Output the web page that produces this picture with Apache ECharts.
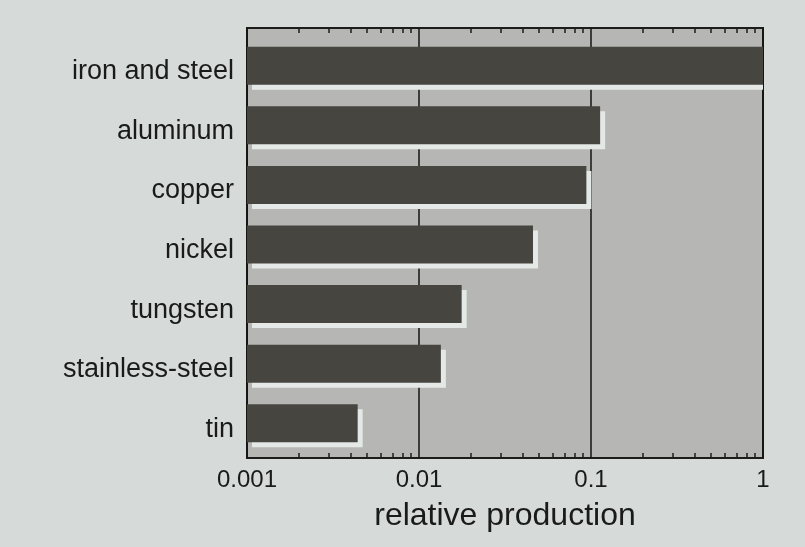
<!DOCTYPE html>
<html>
<head>
<meta charset="utf-8">
<script src="https://cdn.jsdelivr.net/npm/echarts@6/dist/echarts.min.js"></script>
<style>
    html, body { margin: 0; padding: 0; background: #d6dad9; }
    #main { width: 805px; height: 547px; }
</style>
</head>
<body>
<div id="main"></div>
<script>
// categories top to bottom
var metals = ['iron and steel', 'aluminum', 'copper', 'nickel', 'tungsten', 'stainless-steel', 'tin']
var production = [1, 0.113, 0.094, 0.046, 0.0177, 0.0134, 0.0044]

var xMin = 0.001
var xMax = 1
var xTicks = [0.001, 0.01, 0.1, 1]
var xTickLabels = ['0.001', '0.01', '0.1', '1']
var minorTicks = [
    0.002, 0.003, 0.004, 0.005, 0.006, 0.007, 0.008, 0.009,
    0.02, 0.03, 0.04, 0.05, 0.06, 0.07, 0.08, 0.09,
    0.2, 0.3, 0.4, 0.5, 0.6, 0.7, 0.8, 0.9
]

var myChart = echarts.init(document.getElementById('main'))

function tickLabel(v) {
    for (var i = 0; i < xTicks.length; i++) {
        if (Math.abs(Math.log10(v / xTicks[i])) < 1e-6) return xTickLabels[i]
    }
    return ''
}

// log axis bars in echarts start at 1, so draw them from xMin with a custom series
function renderBar(params, api) {
    var end = api.coord([api.value(0), api.value(1)])
    var start = api.coord([xMin, api.value(1)])
    var h = 38
    return {
        type: 'rect',
        shape: { x: start[0], y: end[1] - h / 2, width: end[0] - start[0], height: h },
        style: {
            fill: '#46453f',
            shadowColor: '#e4e8e6',
            shadowBlur: 0,
            shadowOffsetX: 5,
            shadowOffsetY: 5
        }
    }
}

var option = {
    backgroundColor: '#d6dad9',
    animation: false,
    grid: [
        // bars
        { left: 247, right: 42, top: 36, bottom: 94 },
        // frame, grid lines, ticks
        {
            left: 247, right: 42, top: 28, bottom: 89,
            show: true,
            backgroundColor: '#b6b7b4',
            borderColor: '#1c1c1a',
            borderWidth: 2
        }
    ],
    xAxis: [
        {
            type: 'log',
            gridIndex: 0,
            min: xMin,
            max: xMax,
            show: false
        },
        {
            type: 'log',
            gridIndex: 1,
            min: xMin,
            max: xMax,
            position: 'bottom',
            axisLine: { show: false },
            axisTick: { show: false },
            axisLabel: {
                formatter: tickLabel,
                fontFamily: 'Liberation Sans',
                fontSize: 24,
                color: '#1a1a1a',
                margin: 10
            },
            splitLine: {
                show: true,
                lineStyle: { color: '#141412', width: 1.5 }
            },
            name: 'relative production',
            nameLocation: 'middle',
            nameGap: 42,
            nameTextStyle: {
                fontFamily: 'Liberation Sans',
                fontSize: 32,
                color: '#1a1a1a'
            }
        },
        {
            type: 'log',
            gridIndex: 1,
            min: xMin,
            max: xMax,
            position: 'bottom',
            axisLine: { show: false },
            axisLabel: { show: false },
            splitLine: { show: false },
            axisTick: {
                show: true,
                inside: true,
                length: 5,
                customValues: minorTicks,
                lineStyle: { color: '#1c1c1a', width: 1.5 }
            }
        },
        {
            type: 'log',
            gridIndex: 1,
            min: xMin,
            max: xMax,
            position: 'top',
            axisLine: { show: false },
            axisLabel: { show: false },
            splitLine: { show: false },
            axisTick: {
                show: true,
                inside: true,
                length: 5,
                customValues: minorTicks,
                lineStyle: { color: '#1c1c1a', width: 1.5 }
            }
        }
    ],
    yAxis: [
        {
            type: 'category',
            gridIndex: 0,
            inverse: true,
            data: metals,
            axisLine: { show: false },
            axisTick: { show: false },
            axisLabel: {
                margin: 13,
                formatter: function (v) { return '{c|' + v + '}' },
                rich: {
                    c: {
                        fontFamily: 'Liberation Sans',
                        fontSize: 27,
                        color: '#1a1a1a',
                        padding: [12, 0, 0, 0]
                    }
                }
            }
        },
        {
            type: 'value',
            gridIndex: 1,
            show: false
        }
    ],
    series: [
        {
            name: 'relative production',
            type: 'custom',
            xAxisIndex: 0,
            yAxisIndex: 0,
            clip: true,
            renderItem: renderBar,
            encode: { x: 0, y: 1 },
            data: production.map(function (v, i) { return [v, metals[i]] })
        }
    ]
}

option && myChart.setOption(option, true)
</script>
</body>
</html>
